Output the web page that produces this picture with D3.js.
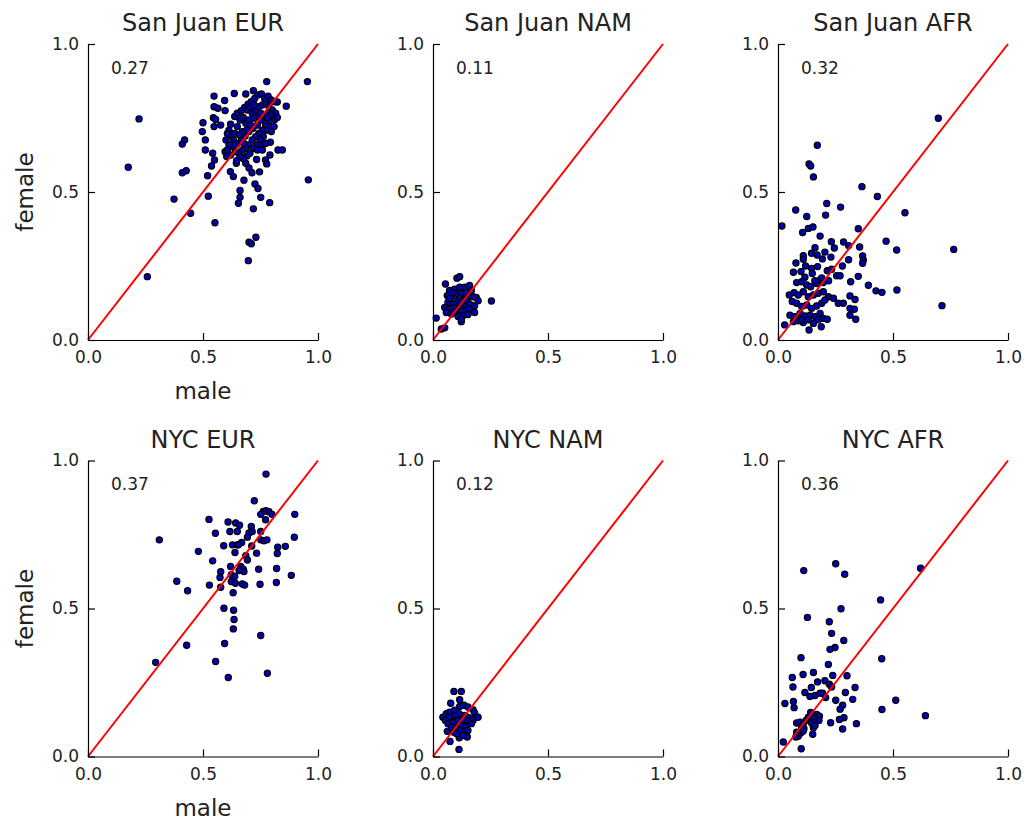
<!DOCTYPE html>
<html>
<head>
<meta charset="utf-8">
<script src="https://cdn.jsdelivr.net/npm/d3@7"></script>
<style>
  html, body { margin: 0; padding: 0; background: #ffffff; }
  svg { display: block; font-family: "DejaVu Sans", sans-serif; }
</style>
</head>
<body>
<svg id="chart" width="1024" height="821"></svg>
<script>
// ---------------- DATA ----------------
const panelTitles = ["San Juan EUR", "San Juan NAM", "San Juan AFR", "NYC EUR", "NYC NAM", "NYC AFR"];
const correlations = ["0.27", "0.11", "0.32", "0.37", "0.12", "0.36"];
const tickValues = [0, 0.5, 1.0];
const xLabel = "male";
const yLabel = "female";

// [male, female]
const sanJuanEUR = [
  [0.954,0.873],[0.777,0.873],[0.222,0.747],[0.175,0.584],[0.958,0.541],[0.258,0.214],[0.374,0.476],[0.446,0.428],
  [0.523,0.486],[0.552,0.396],[0.697,0.268],[0.70,0.33],[0.71,0.325],[0.73,0.347],[0.719,0.443],[0.654,0.462],
  [0.661,0.482],[0.661,0.505],[0.751,0.482],[0.79,0.464],[0.678,0.54],[0.41,0.662],[0.42,0.676],[0.41,0.565],
  [0.427,0.572],[0.497,0.704],[0.5,0.734],[0.51,0.676],[0.51,0.642],[0.52,0.555],[0.537,0.588],[0.548,0.788],
  [0.548,0.824],[0.565,0.783],[0.594,0.809],[0.636,0.833],[0.686,0.831],[0.719,0.842],[0.545,0.751],[0.555,0.745],
  [0.548,0.721],[0.577,0.726],[0.596,0.775],[0.826,0.642],[0.845,0.642],[0.862,0.79],[0.823,0.804],[0.542,0.631],
  [0.55,0.608],[0.596,0.636],[0.603,0.62],[0.619,0.569],[0.632,0.552],[0.645,0.597],[0.686,0.597],[0.7,0.581],
  [0.713,0.565],[0.746,0.568],[0.772,0.608],[0.777,0.595],[0.733,0.61],[0.791,0.625],[0.793,0.668],[0.726,0.527],
  [0.739,0.512],
  [0.613,0.709],[0.628,0.687],[0.638,0.698],[0.649,0.721],[0.661,0.743],[0.675,0.752],[0.686,0.732],[0.7,0.743],
  [0.714,0.766],[0.729,0.777],[0.743,0.788],[0.758,0.794],[0.772,0.8],[0.787,0.788],[0.801,0.777],[0.816,0.766],
  [0.801,0.752],[0.787,0.738],[0.772,0.726],[0.758,0.709],[0.743,0.698],[0.729,0.687],[0.714,0.676],[0.7,0.659],
  [0.686,0.648],[0.671,0.642],[0.657,0.631],[0.642,0.636],[0.628,0.653],[0.613,0.659],[0.632,0.676],[0.649,0.664],
  [0.667,0.676],[0.683,0.689],[0.7,0.704],[0.717,0.715],[0.736,0.726],[0.754,0.743],[0.768,0.757],[0.783,0.768],
  [0.797,0.76],[0.812,0.745],[0.794,0.721],[0.777,0.709],[0.762,0.687],[0.748,0.676],[0.733,0.659],[0.719,0.648],
  [0.704,0.631],[0.69,0.622],[0.675,0.613],[0.661,0.619],[0.646,0.606],[0.606,0.642],[0.62,0.625],[0.638,0.755],
  [0.649,0.766],[0.667,0.775],[0.681,0.786],[0.696,0.797],[0.71,0.805],[0.725,0.816],[0.739,0.828],[0.754,0.831],
  [0.768,0.816],[0.783,0.824],[0.797,0.811],[0.812,0.805],[0.823,0.752],[0.809,0.721],[0.797,0.704],[0.758,0.659],
  [0.772,0.664],[0.693,0.777],[0.707,0.786],[0.722,0.794],[0.62,0.729],[0.606,0.698],[0.6,0.676],[0.736,0.755],
  [0.751,0.766],[0.78,0.752],[0.69,0.709],[0.671,0.704],[0.657,0.693],[0.639,0.659],[0.722,0.749],[0.707,0.726],
  [0.678,0.664],[0.736,0.642],[0.758,0.642]
];

const sanJuanNAM = [
  [0.014,0.074],[0.036,0.037],[0.051,0.041],[0.104,0.209],[0.116,0.214],[0.054,0.189],[0.254,0.132],[0.123,0.062],
  [0.072,0.167],[0.094,0.172],[0.116,0.178],[0.138,0.178],[0.159,0.184],[0.062,0.15],[0.08,0.144],[0.101,0.155],
  [0.123,0.158],[0.145,0.161],[0.167,0.167],[0.188,0.144],[0.196,0.133],[0.065,0.127],[0.087,0.122],[0.109,0.133],
  [0.13,0.139],[0.152,0.142],[0.174,0.146],[0.051,0.11],[0.072,0.105],[0.094,0.11],[0.116,0.11],[0.138,0.116],
  [0.159,0.122],[0.181,0.116],[0.058,0.093],[0.08,0.088],[0.101,0.093],[0.123,0.097],[0.145,0.099],[0.167,0.097],
  [0.181,0.093],[0.109,0.079],[0.13,0.082],[0.152,0.086],[0.123,0.071],[0.085,0.16],[0.12,0.125],[0.14,0.135],
  [0.09,0.095],[0.155,0.105],[0.07,0.14]
];

const sanJuanAFR = [
  [0.697,0.749],[0.171,0.658],[0.135,0.595],[0.142,0.588],[0.154,0.551],[0.365,0.518],[0.432,0.485],[0.552,0.43],
  [0.764,0.306],[0.713,0.116],[0.017,0.385],[0.077,0.439],[0.125,0.417],[0.212,0.461],[0.207,0.422],[0.272,0.449],
  [0.132,0.377],[0.152,0.382],[0.107,0.363],[0.183,0.351],[0.349,0.376],[0.47,0.334],[0.516,0.304],[0.355,0.314],
  [0.368,0.284],[0.371,0.27],[0.368,0.259],[0.307,0.271],[0.349,0.215],[0.316,0.197],[0.393,0.185],[0.426,0.166],
  [0.452,0.161],[0.517,0.169],[0.285,0.331],[0.307,0.319],[0.232,0.332],[0.245,0.311],[0.204,0.297],[0.161,0.312],
  [0.17,0.287],[0.146,0.293],[0.11,0.285],[0.11,0.273],[0.078,0.26],[0.067,0.229],[0.1,0.231],[0.117,0.212],
  [0.146,0.242],[0.172,0.248],[0.149,0.225],[0.193,0.274],[0.214,0.234],[0.233,0.239],[0.255,0.217],[0.27,0.217],
  [0.081,0.194],[0.103,0.197],[0.125,0.186],[0.142,0.18],[0.168,0.191],[0.183,0.203],[0.197,0.194],[0.049,0.152],
  [0.07,0.16],[0.088,0.152],[0.11,0.163],[0.132,0.146],[0.154,0.152],[0.175,0.158],[0.197,0.163],[0.219,0.146],
  [0.241,0.141],[0.262,0.124],[0.284,0.124],[0.313,0.149],[0.335,0.137],[0.313,0.107],[0.332,0.104],[0.313,0.084],
  [0.338,0.07],[0.062,0.13],[0.081,0.124],[0.103,0.113],[0.125,0.118],[0.146,0.107],[0.168,0.115],[0.19,0.124],
  [0.204,0.135],[0.052,0.084],[0.074,0.079],[0.096,0.09],[0.117,0.081],[0.139,0.084],[0.161,0.079],[0.183,0.09],
  [0.197,0.073],[0.214,0.07],[0.067,0.062],[0.088,0.065],[0.11,0.059],[0.132,0.068],[0.154,0.056],[0.175,0.068],
  [0.029,0.051],[0.135,0.034],[0.188,0.045],[0.103,0.068],[0.19,0.21],[0.22,0.2],[0.12,0.25],[0.16,0.2],
  [0.23,0.28],[0.28,0.25]
];

const nycEUR = [
  [0.774,0.954],[0.723,0.864],[0.31,0.732],[0.294,0.318],[0.386,0.592],[0.433,0.56],[0.429,0.376],[0.48,0.693],
  [0.526,0.801],[0.554,0.754],[0.542,0.661],[0.528,0.579],[0.555,0.321],[0.594,0.382],[0.61,0.267],[0.591,0.501],
  [0.633,0.494],[0.635,0.463],[0.632,0.431],[0.631,0.553],[0.751,0.409],[0.78,0.281],[0.609,0.792],[0.642,0.789],
  [0.659,0.781],[0.617,0.76],[0.649,0.76],[0.59,0.712],[0.628,0.715],[0.649,0.715],[0.668,0.723],[0.639,0.689],
  [0.71,0.777],[0.7,0.755],[0.693,0.741],[0.714,0.76],[0.751,0.76],[0.762,0.828],[0.774,0.83],[0.787,0.827],
  [0.8,0.818],[0.751,0.818],[0.772,0.8],[0.899,0.818],[0.897,0.741],[0.858,0.71],[0.825,0.707],[0.823,0.686],
  [0.82,0.635],[0.819,0.588],[0.884,0.612],[0.751,0.732],[0.765,0.729],[0.778,0.732],[0.733,0.687],[0.712,0.711],
  [0.686,0.678],[0.693,0.664],[0.664,0.642],[0.675,0.633],[0.657,0.628],[0.678,0.625],[0.62,0.642],[0.577,0.624],
  [0.574,0.605],[0.623,0.614],[0.638,0.608],[0.623,0.591],[0.641,0.585],[0.671,0.583],[0.681,0.579],[0.577,0.572],
  [0.742,0.633],[0.748,0.582],[0.654,0.715]
];

const nycNAM = [
  [0.091,0.22],[0.123,0.22],[0.077,0.18],[0.116,0.192],[0.113,0.024],[0.074,0.051],[0.114,0.063],[0.149,0.066],
  [0.062,0.085],[0.043,0.133],[0.058,0.145],[0.072,0.15],[0.094,0.156],[0.116,0.169],[0.135,0.173],[0.152,0.167],
  [0.174,0.158],[0.181,0.147],[0.188,0.133],[0.174,0.128],[0.152,0.133],[0.135,0.139],[0.113,0.145],[0.094,0.139],
  [0.072,0.133],[0.054,0.122],[0.065,0.111],[0.087,0.116],[0.109,0.122],[0.13,0.124],[0.152,0.12],[0.174,0.122],
  [0.196,0.133],[0.08,0.099],[0.101,0.097],[0.123,0.105],[0.145,0.102],[0.167,0.111],[0.091,0.082],[0.116,0.088],
  [0.138,0.086],[0.152,0.088],[0.13,0.071],[0.103,0.077]
];

const nycAFR = [
  [0.251,0.651],[0.112,0.628],[0.29,0.616],[0.62,0.636],[0.446,0.529],[0.274,0.499],[0.128,0.47],[0.223,0.455],
  [0.233,0.416],[0.286,0.392],[0.248,0.368],[0.226,0.362],[0.1,0.334],[0.451,0.33],[0.219,0.311],[0.062,0.267],
  [0.065,0.235],[0.109,0.277],[0.154,0.284],[0.238,0.274],[0.3,0.273],[0.172,0.252],[0.204,0.256],[0.223,0.244],
  [0.233,0.235],[0.335,0.233],[0.145,0.233],[0.117,0.216],[0.139,0.203],[0.161,0.206],[0.183,0.214],[0.194,0.214],
  [0.207,0.199],[0.293,0.216],[0.325,0.193],[0.03,0.179],[0.067,0.186],[0.07,0.165],[0.251,0.19],[0.281,0.173],
  [0.27,0.16],[0.452,0.159],[0.512,0.19],[0.641,0.138],[0.142,0.149],[0.168,0.142],[0.18,0.136],[0.157,0.128],
  [0.132,0.133],[0.122,0.122],[0.081,0.113],[0.096,0.116],[0.11,0.111],[0.146,0.113],[0.161,0.116],[0.178,0.122],
  [0.287,0.131],[0.267,0.125],[0.229,0.114],[0.341,0.111],[0.281,0.093],[0.103,0.099],[0.113,0.094],[0.154,0.097],
  [0.161,0.105],[0.081,0.082],[0.099,0.079],[0.11,0.086],[0.151,0.075],[0.088,0.068],[0.078,0.066],[0.023,0.049],
  [0.101,0.026]
];

const panelData = [sanJuanEUR, sanJuanNAM, sanJuanAFR, nycEUR, nycNAM, nycAFR];

// ---------------- LAYOUT ----------------
const svg = d3.select("#chart");
const colX = [88, 433, 778];
const rowY = [44, 460.5];
const pw = 230, ph = 296;
const fmt = d3.format(".1f");

panelData.forEach((data, i) => {
  const col = i % 3, row = Math.floor(i / 3);
  const x0 = colX[col], y0 = rowY[row];
  const x = d3.scaleLinear().domain([0, 1]).range([x0, x0 + pw]);
  const y = d3.scaleLinear().domain([0, 1]).range([y0 + ph, y0]);
  const g = svg.append("g");

  // points
  g.append("g").selectAll("circle").data(data).join("circle")
    .attr("cx", d => x(d[0])).attr("cy", d => y(d[1]))
    .attr("r", 3.1)
    .attr("fill", "#0000b4")
    .attr("stroke", "#000000")
    .attr("stroke-width", 1.2);

  // identity line
  g.append("path")
    .datum([[0, 0], [1, 1]])
    .attr("d", d3.line().x(d => x(d[0])).y(d => y(d[1])))
    .attr("stroke", "#ff0000").attr("stroke-width", 2).attr("fill", "none");

  // axes
  const ax = g.append("g").attr("transform", `translate(0,${y0 + ph})`)
    .call(d3.axisBottom(x).tickValues(tickValues).tickFormat(fmt).tickSizeInner(-7).tickSizeOuter(0).tickPadding(11));
  const ay = g.append("g").attr("transform", `translate(${x0},0)`)
    .call(d3.axisLeft(y).tickValues(tickValues).tickFormat(fmt).tickSizeInner(-7).tickSizeOuter(0).tickPadding(9));
  [ax, ay].forEach(a => {
    a.selectAll("text").attr("font-size", 17).attr("fill", "#222").attr("font-family", "DejaVu Sans");
    a.selectAll("line").attr("stroke", "#000").attr("stroke-width", 1.2);
    a.select(".domain").attr("stroke", "#000").attr("stroke-width", 1.2);
  });

  // correlation
  g.append("text")
    .attr("x", x(0.1)).attr("y", y(0.9))
    .attr("font-size", 17).attr("fill", "#222")
    .text(correlations[i]);

  // title
  g.append("text")
    .attr("x", x0 + pw / 2).attr("y", y0 - 13)
    .attr("text-anchor", "middle").attr("font-size", 24).attr("fill", "#222")
    .text(panelTitles[i]);

  if (col === 0) {
    g.append("text")
      .attr("x", x0 + pw / 2).attr("y", y0 + ph + 59)
      .attr("text-anchor", "middle").attr("font-size", 23).attr("fill", "#222")
      .text(xLabel);
    g.append("text")
      .attr("transform", `translate(33,${y0 + ph / 2}) rotate(-90)`)
      .attr("text-anchor", "middle").attr("font-size", 23).attr("fill", "#222")
      .text(yLabel);
  }
});
</script>
</body>
</html>
